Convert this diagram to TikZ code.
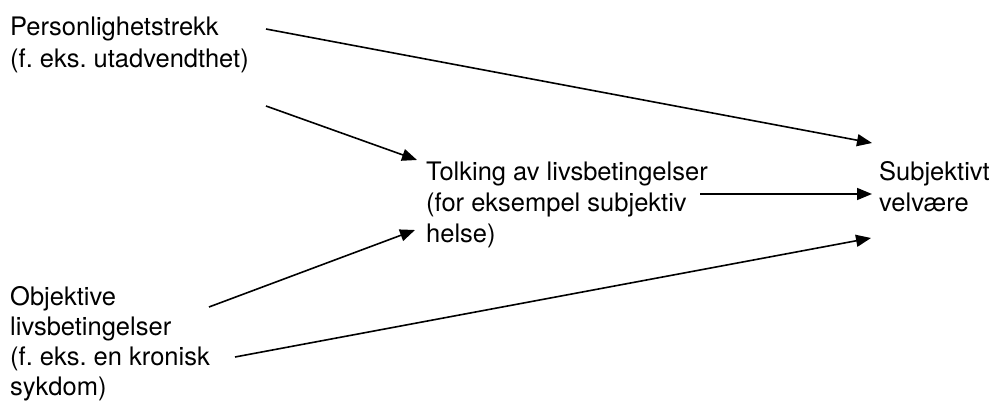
\documentclass[tikz,border=0pt]{standalone}
\usepackage{fontspec}
\setmainfont{TeX Gyre Heros}
\frenchspacing
\usetikzlibrary{arrows.meta}
\begin{document}
\begin{tikzpicture}[x=1pt,y=-1pt,
  label text/.style={anchor=base west, inner sep=0pt, align=left,
    font=\fontsize{25.5}{31}\selectfont},
  link/.style={line width=1.6pt, -{Triangle[length=15pt,width=12pt]}}]
  \useasboundingbox (0,0) rectangle (996,401);

  % text blocks, placed by the baseline of their last line
  \node[label text, font=\fontsize{25.5}{32}\selectfont] (trait) at (10,68)
    {Personlighetstrekk\\(f. eks. utadvendthet)};
  \node[label text, font=\fontsize{25.5}{29.7}\selectfont] (objective) at (10,395)
    {Objektive\\livsbetingelser\\(f. eks. en kronisk\\sykdom)};
  \node[label text] (interpret) at (426,242)
    {Tolking av livsbetingelser\\(for eksempel subjektiv\\helse)};
  \node[label text] (wellbeing) at (879,211) {Subjektivt\\velvære};

  % arrow end points
  \coordinate (traitA) at (266,29);
  \coordinate (traitB) at (266,106);
  \coordinate (objA) at (209,307);
  \coordinate (objB) at (235,357);
  \coordinate (interpIn1) at (417,160);
  \coordinate (interpIn2) at (415,230);
  \coordinate (interpOut) at (700,194);
  \coordinate (wellIn1) at (872,143);
  \coordinate (wellIn2) at (872,194);
  \coordinate (wellIn3) at (871,238);

  % connectors
  \draw[link] (traitA) -- (wellIn1);
  \draw[link] (traitB) -- (interpIn1);
  \draw[link] (objA) -- (interpIn2);
  \draw[link] (objB) -- (wellIn3);
  \draw[link] (interpOut) -- (wellIn2);
\end{tikzpicture}
\end{document}
